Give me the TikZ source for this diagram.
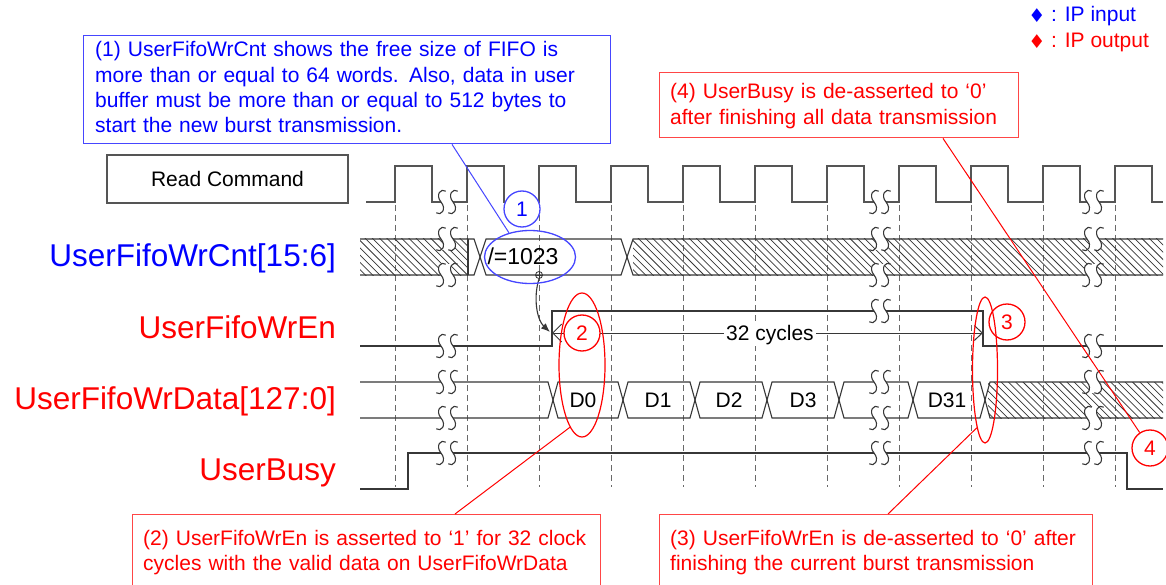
\documentclass[tikz,border=0pt]{standalone}
\usepackage{fontspec}
\setmainfont{Liberation Sans}
\newfontfamily\djv{DejaVu Sans}
\usetikzlibrary{arrows.meta,shapes.geometric,calc}
\definecolor{tblue}{RGB}{0,0,255}
\definecolor{bblue}{RGB}{70,70,255}
\definecolor{tred}{RGB}{255,0,0}
\definecolor{bred}{RGB}{255,70,70}
\definecolor{sig}{RGB}{55,55,55}
\definecolor{clkc}{RGB}{85,85,85}
\definecolor{dgray}{RGB}{105,105,105}
\newcommand\annfont{\fontsize{21}{25.3}\selectfont}
\newcommand\sigfont{\fontsize{31.5}{36}\selectfont}
\newcommand\myhatch[4]{%
  \begin{scope}
    \clip (#1,#3) rectangle (#2,#4);
    \foreach \k in {0,...,90}{\draw[hatchline] ({#1-40+7.3*\k},#3-2) -- ++(44,44);}
  \end{scope}}
\begin{document}
\begin{tikzpicture}[x=1pt,y=-1pt,
  sigline/.style={draw=sig, line width=1.1pt},
  clkline/.style={draw=clkc, line width=1.7pt},
  gridline/.style={draw=dgray, line width=1pt, dash pattern=on 6pt off 4pt},
  hatchline/.style={draw=sig, line width=0.75pt},
  brkline/.style={draw=sig, line width=1.1pt},
  bbox/.style={draw=bblue, line width=1.4pt, anchor=north west, inner sep=0},
  rbox/.style={draw=bred, line width=1.4pt, anchor=north west, inner sep=0},
  btext/.style={text=tblue, font=\annfont, anchor=base west, inner sep=0, align=left},
  rtext/.style={text=tred, font=\annfont, anchor=base west, inner sep=0, align=left},
  siglab/.style={font=\sigfont, anchor=base east, inner sep=0},
  numc/.style={circle, minimum size=36pt, inner sep=0, font=\annfont, line width=1.3pt},
  redline/.style={draw=tred, line width=1pt},
  blueline/.style={draw=bblue, line width=1pt},
  dlab/.style={font=\annfont, anchor=base, inner sep=0},
  brk/.pic={
    \fill[white] (-1,-9) .. controls (-5,-12) and (-10,-6) .. (-5,0) .. controls (0,6) and (-5,12) .. (-9,9)
       -- (1,9) .. controls (5,12) and (10,6) .. (5,0) .. controls (0,-6) and (5,-12) .. (9,-9) -- cycle;
    \draw[brkline] (-1,-9) .. controls (-5,-12) and (-10,-6) .. (-5,0) .. controls (0,6) and (-5,12) .. (-9,9);
    \draw[brkline] (9,-9) .. controls (5,-12) and (0,-6) .. (5,0) .. controls (10,6) and (5,12) .. (1,9);
  }]
\useasboundingbox[fill=white] (0,0) rectangle (1166,585);

% grid
\foreach \r in {395,467,539,611,683,755,827,899,971,1043,1115}
  \draw[gridline] (\r,205) -- (\r,487);

% clock
\draw[clkline] (366,202) foreach \r in {395,467,539,611,683,755,827,899,971,1043,1115} { -- (\r,202) -- (\r,166) -- ({\r+37},166) -- ({\r+37},202) } -- (1163,202);

% UserFifoWrCnt
\myhatch{360}{468}{239}{275}
\draw[sigline] (360,239) -- (474,239) -- (480,257) -- (474,275) -- (360,275);
\draw[sigline] (468,239) -- (468,275);
\draw[sigline] (480,257) -- (486,239) -- (621,239) -- (627,257) -- (621,275) -- (486,275) -- cycle;
\myhatch{633}{1163}{239}{275}
\draw[sigline] (1163,239) -- (633,239) -- (627,257) -- (633,275) -- (1163,275);

% UserFifoWrEn
\draw[sigline] (360,346) -- (552,346) -- (552,311) -- (983,311) -- (983,346) -- (1163,346);

% UserFifoWrData
\draw[sigline] (360,382) -- (548,382) -- (553,400) -- (548,418) -- (360,418);
\foreach \a/\b in {553/623,623/695,695/767,767/839,839/913,913/985}
  \draw[sigline] (\a,400) -- ({\a+5},382) -- ({\b-5},382) -- (\b,400) -- ({\b-5},418) -- ({\a+5},418) -- cycle;
\myhatch{988}{1163}{382}{418}
\draw[sigline] (1163,382) -- (990,382) -- (985,400) -- (990,418) -- (1163,418);

% UserBusy
\draw[sigline] (360,489) -- (408,489) -- (408,453) -- (1127,453) -- (1127,489) -- (1163,489);

% breaks
\foreach \x/\y in {447/202,447/239,447/275,447/346,447/382,447/418,447/453,
                   880/202,880/239,880/275,880/311,880/382,880/418,880/453,
                   1093/202,1093/239,1093/275,1093/346,1093/382,1093/418,1093/453}
  \pic[scale=1.2] at (\x,\y) {brk};

% labels
\node[draw=clkc, line width=1.5pt, minimum width=241pt, minimum height=48pt, inner sep=0, font=\annfont] (rc) at (227.5,179) {Read Command};
\node[siglab, text=tblue] (lcnt) at (336,266) {UserFifoWrCnt[15:6]};
\node[siglab, text=tred] (len) at (336,338) {UserFifoWrEn};
\node[siglab, text=tred] (ldata) at (336,409) {UserFifoWrData[127:0]};
\node[siglab, text=tred] (lbusy) at (336,480) {UserBusy};

% data labels
\node[dlab, font={\fontsize{23}{26}\selectfont}] (cntv) at (523,264) {/=1023};
\node[dlab] (d0) at (583,407) {D0};
\node[dlab] (d1) at (658,407) {D1};
\node[dlab] (d2) at (729,407) {D2};
\node[dlab] (d3) at (803,407) {D3};
\node[dlab] (d31) at (947,407) {D31};

% legend
\node[text=tblue, inner sep=0, font={\djv\fontsize{19}{19}\selectfont}] (dia1) at (1037,16) {♦};
\node[btext] (leg1) at (1051,22) {: IP input};
\node[text=tred, inner sep=0, font={\djv\fontsize{19}{19}\selectfont}] (dia2) at (1037,42) {♦};
\node[rtext] (leg2) at (1051,48) {: IP output};

% annotation boxes
\node[bbox, minimum width=527pt, minimum height=108pt] (box1) at (83,35) {};
\node[btext, text width=515pt] (t1) at (95,57) {(1) UserFifoWrCnt shows the free size of FIFO is\\more than or equal to 64 words. Also, data in user\\buffer must be more than or equal to 512 bytes to\\start the new burst transmission.};
\node[rbox, minimum width=359pt, minimum height=65pt] (box4) at (659,72) {};
\node[rtext, text width=350pt] (t4) at (670,99) {(4) UserBusy is de-asserted to ‘0’\\after finishing all data transmission};
\node[rbox, minimum width=468pt, minimum height=90pt] (box2) at (132,514) {};
\node[rtext, text width=455pt] (t2) at (143,545) {(2) UserFifoWrEn is asserted to ‘1’ for 32 clock\\cycles with the valid data on UserFifoWrData};
\node[rbox, minimum width=433pt, minimum height=90pt] (box3) at (659,514) {};
\node[rtext, text width=420pt] (t3) at (670,545) {(3) UserFifoWrEn is de-asserted to ‘0’ after\\finishing the current burst transmission};

% marker and arrow
\node[circle, draw=sig, minimum size=7pt, inner sep=0, line width=0.8pt] (mk) at (539,275) {};
\draw[sigline, line width=0.7pt] (mk.north) -- (mk.south) (mk.west) -- (mk.east);
\coordinate (en1) at (550,332);
\draw[sigline, -{Latex[length=9pt,width=7pt]}] (mk.south) .. controls (533,298) and (537,320) .. (en1);

% 32 cycles dimension
\coordinate (enr) at (552,333);
\coordinate (enf) at (983,333);
\draw[sigline, line width=1pt, {Straight Barb[length=9pt,width=18pt]}-{Straight Barb[length=8pt,width=15pt]}] (enr) -- (enf);
\node[font=\annfont, fill=white, inner sep=2pt, anchor=base] (cyc) at (770,340) {32 cycles};

% ellipses and circles
\node[ellipse, draw=bblue, line width=1.3pt, minimum width=91pt, minimum height=53pt, inner sep=0] (ell1) at (530,257) {};
\node[numc, draw=bblue, fill=white, text=tblue] (c1) at (522,209) {1};
\node[ellipse, draw=tred, line width=1.2pt, minimum width=46pt, minimum height=144pt, inner sep=0] (ell2) at (582,365) {};
\node[numc, draw=tred, fill=white, text=tred] (c2) at (582,333) {2};
\node[numc, draw=tred, text=tred] (c3) at (1007,322) {3};
\node[ellipse, draw=tred, line width=1.2pt, minimum width=25pt, minimum height=146pt, inner sep=0] (ell3) at (985,370) {};
\node[numc, draw=tred, fill=white, text=tred] (c4) at (1150,448) {4};

% annotation connectors
\draw[blueline] ($(box1.south west)+(369,0)$) -- (ell1.131);
\draw[redline] ($(box2.north west)+(323,0)$) -- (ell2.259);
\draw[redline] ($(box3.north west)+(229,0)$) -- (ell3.262);
\draw[redline] ($(box4.south west)+(284,0)$) -- (c4);
\end{tikzpicture}
\end{document}
